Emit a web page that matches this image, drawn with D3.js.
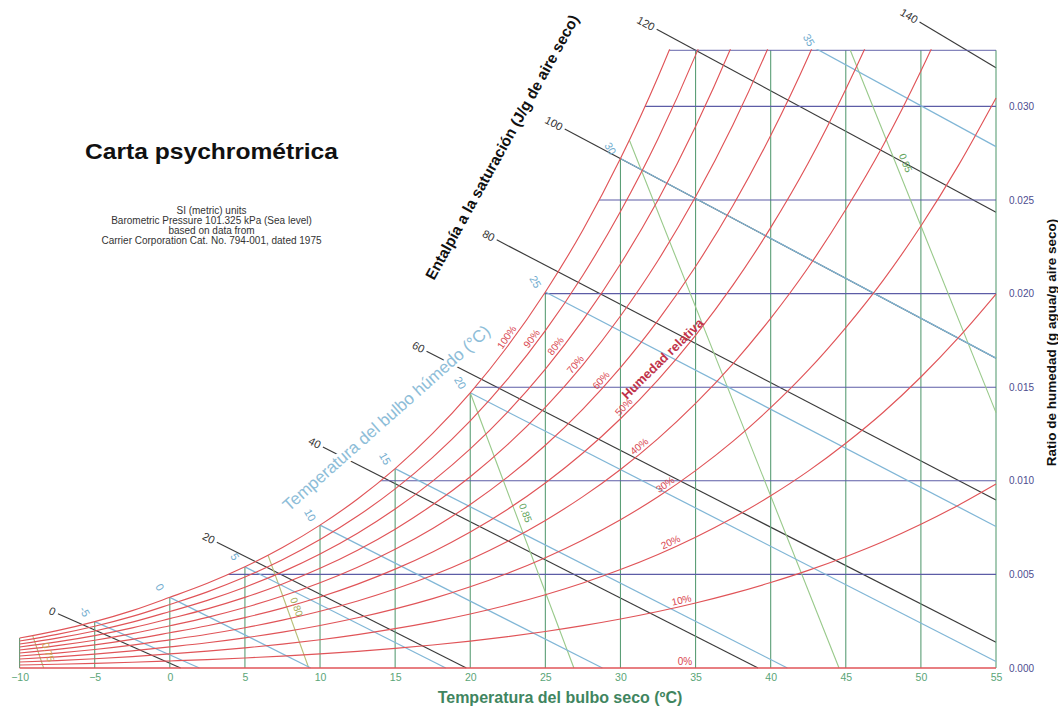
<!DOCTYPE html>
<html><head><meta charset="utf-8">
<script src="https://cdn.jsdelivr.net/npm/d3@7"></script>
<style>
body{margin:0;background:#fff}
svg{display:block;font-family:"Liberation Sans",Arial,Helvetica,sans-serif}
</style>
</head><body>
<svg id="chart" width="1058" height="707"></svg>
<script>
// ---------------- DATA ----------------
const dryBulbC = [-10,-7.5,-5,-2.5,0,2.5,5,7.5,10,12.5,15,17.5,20,22.5,25,27.5,30,32.5,35,37.5,40,42.5,45,47.5,50,52.5,55];
const satPressureKPa = [0.2599,0.3238,0.4017,0.4965,0.6112,0.7316,0.8726,1.0370,1.2282,1.4497,1.7058,2.0006,2.3393,2.7267,3.1699,3.6738,4.2470,4.8944,5.6290,6.4547,7.3849,8.4232,9.5950,10.889,12.352,13.976,15.763];
const barometricKPa = 101.325;

const rhLevels = [100,90,80,70,60,50,40,30,20,10];
const rhLabelT = [22.75,24.4,26.0,27.3,29.0,30.5,31.5,33.2,33.5,34.15];

const dryBulbTicks = [-10,-5,0,5,10,15,20,25,30,35,40,45,50,55];
const dryBulbTickLabels = ["\u221210","\u22125","0","5","10","15","20","25","30","35","40","45","50","55"];
const humidityTicks = [0,5,10,15,20,25,30];            // g/kg
const humidityTickLabels = ["0.000","0.005","0.010","0.015","0.020","0.025","0.030"];
const humidityGrid = [5,10,15,20,25,30,33];

const wetBulbC    = [-5,0,5,10,15,20,25,30,35];
const wetBulbLabels = ["-5","0","5","10","15","20","25","30","35"];
const wetBulbEndT = [1.97,9.38,18.37,28.80,41.11,55,55,55,55];
const wetBulbEndW = [0,0,0,0,0,0.35,7.56,16.55,27.85];

const enthalpyLabels = ["0","20","40","60","80","100","120","140"];
const enthalpyStartT = [-7.45,3.13,10.19,17.09,21.76,26.29,32.41,49.91];
const enthalpyStartW = [2.90,6.72,11.81,16.92,22.87,28.79,34.12,34.5];
const enthalpyEndT   = [0.72,19.74,39.16,55,55,55,55,55];
const enthalpyEndW   = [0,0,0,1.37,8.97,16.55,24.34,32.06];

const volumeLabels = ["0.75","0.80","0.85","0.90","0.95"];
const volumeStartT = [-9.13,6.54,20.0,30.59,45.3];
const volumeStartW = [1.73,6.02,14.70,28.2,33.0];
const volumeEndT   = [-8.40,9.25,26.90,44.55,55];
const volumeEndW   = [0,0,0,0,13.64];
const volumeLabelW = [0.85,3.26,8.28,null,26.98];

// ---------------- SETUP ----------------
const svg = d3.select("#chart");
const x = d3.scaleLinear().domain([-10,55]).range([19.6,996]);
const y = d3.scaleLinear().domain([0,33]).range([668,50.2]);
const psAt = d3.scaleLinear().domain(dryBulbC).range(satPressureKPa);
const wAt = (phi, ps) => 622*phi*ps/(barometricKPa - phi*ps);

const C = {
  red:"#e05458", redText:"#d9464f", green:"#5b9e76", purple:"#5c5ca6",
  blue:"#80b6d6", black:"#3a3a3a", vol:"#98c98a", volOlive:"#b7bf78"
};

const defs = svg.append("defs");
defs.append("clipPath").attr("id","plotClip").append("rect")
  .attr("x",x(-10)-1).attr("y",y(33)-1)
  .attr("width",x(55)-x(-10)+2).attr("height",y(0)-y(33)+2);

const satPts = dryBulbC.map((t,i)=>[t, wAt(1, satPressureKPa[i])]);
const satArea = d3.area().x(d=>x(d[0])).y0(y(0)+1).y1(d=>y(d[1])).curve(d3.curveMonotoneX);
const sc = defs.append("clipPath").attr("id","satClip");
sc.append("path").attr("d", satArea(satPts));
sc.append("rect").attr("x",x(-10)-1.5).attr("y",y(satPts[0][1])).attr("width",1.6).attr("height",y(0)-y(satPts[0][1])+1);
sc.append("rect").attr("x",x(55)-0.1).attr("y",y(33)-1).attr("width",1.6).attr("height",y(0)-y(33)+2);

const seg = (g, x1,y1,x2,y2, color, w) => g.append("line")
  .attr("x1",x1).attr("y1",y1).attr("x2",x2).attr("y2",y2)
  .attr("stroke",color).attr("stroke-width",w||1.1);

// ---------------- ENTHALPY LINES (unclipped, extend outside) ----------------
const gEnth = svg.append("g");
enthalpyLabels.forEach((lab,i)=>{
  const x1=x(enthalpyStartT[i]), y1=y(enthalpyStartW[i]), x2=x(enthalpyEndT[i]), y2=y(enthalpyEndW[i]);
  seg(gEnth,x1,y1,x2,y2,C.black,1.15);
  const ang = Math.atan2(y2-y1,x2-x1)*180/Math.PI;
  gEnth.append("text").attr("transform",`translate(${x1},${y1}) rotate(${ang})`)
    .attr("x",-3).attr("dy","0.35em").attr("text-anchor","end")
    .attr("font-size",11).attr("fill","#333").text(lab);
});

// ---------------- PLOT (clipped) ----------------
const plot = svg.append("g").attr("clip-path","url(#plotClip)");
const inner = plot.append("g").attr("clip-path","url(#satClip)");

dryBulbTicks.forEach(t=> seg(inner, x(t), y(0), x(t), y(33), C.green, 1.1));
humidityGrid.forEach(w=> seg(inner, x(-10), y(w), x(55), y(w), C.purple, 1.1));

volumeLabels.forEach((lab,i)=>{
  seg(inner, x(volumeStartT[i]), y(volumeStartW[i]), x(volumeEndT[i]), y(volumeEndW[i]), i<2?C.volOlive:C.vol, 1.1);
});
wetBulbC.forEach((t,i)=>{
  seg(inner, x(t), y(wAt(1, psAt(t))), x(wetBulbEndT[i]), y(wetBulbEndW[i]), C.blue, 1.25);
});

// RH curves
const rhLine = d3.line().x(d=>x(d[0])).y(d=>y(d[1])).curve(d3.curveMonotoneX);
rhLevels.forEach(rh=>{
  plot.append("path").attr("d", rhLine(dryBulbC.map((t,i)=>[t, wAt(rh/100, satPressureKPa[i])])))
    .attr("fill","none").attr("stroke",C.red).attr("stroke-width",1.15);
});
seg(plot, x(-10), y(0), x(55), y(0), C.red, 1.3);

// ---------------- LABELS ----------------
const gLab = svg.append("g");
rhLevels.forEach((rh,i)=>{
  const t = rhLabelT[i];
  const p = [x(t), y(wAt(rh/100, psAt(t)))];
  const p2 = [x(t+0.3), y(wAt(rh/100, psAt(t+0.3)))];
  const ang = Math.atan2(p2[1]-p[1], p2[0]-p[0])*180/Math.PI;
  gLab.append("text").attr("transform",`translate(${p[0]},${p[1]}) rotate(${ang})`)
    .attr("y",-2.5).attr("text-anchor","middle").attr("font-size",10).attr("fill",C.redText)
    .text(rh+"%");
});
gLab.append("text").attr("x",x(34.3)).attr("y",y(0)-3).attr("text-anchor","middle")
  .attr("font-size",10).attr("fill",C.redText).text("0%");

wetBulbC.forEach((t,i)=>{
  const w0 = wAt(1, psAt(t));
  let px = x(t), py = y(w0);
  if (w0 > 33) {
    const f = (w0-33)/(w0-wetBulbEndW[i]);
    px = x(t + f*(wetBulbEndT[i]-t)); py = y(33);
  }
  gLab.append("text").attr("transform",`translate(${px-10},${py-10}) rotate(60)`)
    .attr("text-anchor","middle").attr("dy","0.35em").attr("font-size",11).attr("fill","#74aed0")
    .text(wetBulbLabels[i]);
});

volumeLabels.forEach((lab,i)=>{
  if (volumeLabelW[i]==null) return;
  const x1=x(volumeStartT[i]), y1=y(volumeStartW[i]), x2=x(volumeEndT[i]), y2=y(volumeEndW[i]);
  const f = (volumeStartW[i]-volumeLabelW[i])/(volumeStartW[i]-volumeEndW[i]);
  const px = x1+f*(x2-x1), py = y1+f*(y2-y1);
  const ang = Math.atan2(y2-y1,x2-x1)*180/Math.PI;
  gLab.append("text").attr("transform",`translate(${px+10},${py}) rotate(${ang})`)
    .attr("text-anchor","middle").attr("dy","0.35em").attr("font-size",10)
    .attr("fill", i===0?"#c7a650":(i===1?"#a3ad5c":"#5ea35a")).text(lab);
});

// ---------------- AXES ----------------
const xAxis = d3.axisBottom(x).tickValues(dryBulbTicks).tickSize(0).tickPadding(6)
  .tickFormat((d,i)=>dryBulbTickLabels[i]);
const gx = svg.append("g").attr("transform",`translate(0,${y(0)})`).call(xAxis);
gx.select(".domain").remove();
gx.selectAll("text").attr("fill","#5aa577").attr("font-size",10.5)
  .attr("font-family","'Liberation Sans',Arial,sans-serif");

const yAxis = d3.axisRight(y).tickValues(humidityTicks).tickSize(0).tickPadding(13)
  .tickFormat((d,i)=>humidityTickLabels[i]);
const gy = svg.append("g").attr("transform",`translate(${x(55)},0)`).call(yAxis);
gy.select(".domain").remove();
gy.selectAll("text").attr("fill","#4d4d8f").attr("font-size",10)
  .attr("font-family","'Liberation Sans',Arial,sans-serif");

// ---------------- TITLES ----------------
svg.append("text").attr("x",560).attr("y",703).attr("text-anchor","middle")
  .attr("font-size",16).attr("font-weight","bold").attr("fill","#3f8560")
  .text("Temperatura del bulbo seco (ºC)");
svg.append("text").attr("transform","translate(1055.5,342.5) rotate(-90)")
  .attr("text-anchor","middle").attr("font-size",13.5).attr("font-weight","bold").attr("fill","#111")
  .text("Ratio de humedad (g agua/g aire seco)");

svg.append("text").attr("x",211.5).attr("y",159).attr("text-anchor","middle")
  .attr("font-size",22).attr("font-weight","bold").attr("fill","#111")
  .attr("textLength",253).attr("lengthAdjust","spacingAndGlyphs")
  .text("Carta psychrométrica");
const sub = ["SI (metric) units","Barometric Pressure 101.325 kPa (Sea level)","based on data from","Carrier Corporation Cat. No. 794-001, dated 1975"];
sub.forEach((s,i)=> svg.append("text").attr("x",211.5).attr("y",213.5+i*10)
  .attr("text-anchor","middle").attr("font-size",10).attr("fill","#333").text(s));

svg.append("text").attr("transform","translate(434,281) rotate(-61)")
  .attr("font-size",15.3).attr("font-weight","bold").attr("fill","#111")
  .text("Entalpía a la saturación (J/g de aire seco)");

svg.append("text").attr("transform","translate(289,512) rotate(-41.5)")
  .attr("font-size",17).attr("fill","#8dbdd8")
  .attr("stroke","#fff").attr("stroke-width",6).attr("stroke-linejoin","round")
  .attr("paint-order","stroke")
  .text("Temperatura del bulbo húmedo (°C)");

svg.append("text").attr("transform","translate(627,400) rotate(-44.5)")
  .attr("font-size",13).attr("font-weight","bold").attr("fill","#c0334a")
  .text("Humedad relativa");
</script>
</body></html>
